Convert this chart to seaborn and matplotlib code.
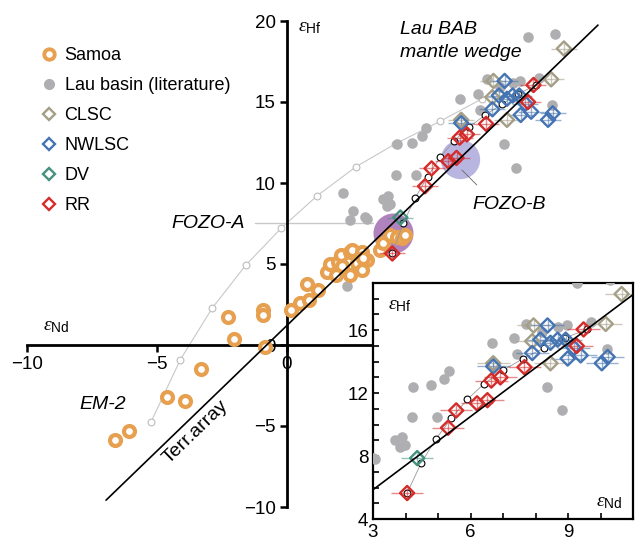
import numpy as np
import pandas as pd
import matplotlib
matplotlib.use("Agg")
import matplotlib.pyplot as plt
from matplotlib.lines import Line2D
from matplotlib.ticker import MultipleLocator
import seaborn as sns

sns.set_style("ticks")
plt.rcParams['font.family'] = ['Liberation Sans', 'DejaVu Sans']
plt.rcParams['mathtext.fontset'] = 'custom'
plt.rcParams['mathtext.rm'] = 'Liberation Sans'
plt.rcParams['mathtext.it'] = 'Liberation Serif:italic'
for key in ['text.color', 'axes.labelcolor', 'xtick.color', 'ytick.color', 'axes.edgecolor']:
    plt.rcParams[key] = 'black'

# ---- data (eNd, eHf) ----
samoa_nd = [-6.62, -6.07, -4.63, -3.92, -3.31, -2.28, -2.03, -0.92, -0.92, -0.85,
            0.16, 0.5, 0.85, 0.76, 1.2, 1.53, 1.65, 1.96, 2.08, 2.42, 2.5, 2.69,
            2.88, 2.88, 3.08, 2.42, 2.93, 3.58, 3.69, 3.96, 4.23, 4.42, 4.54, 2.1, 1.9]
samoa_hf = [-5.86, -5.3, -3.2, -3.46, -1.48, 1.73, 0.37, 2.16, 1.85, -0.12,
            2.16, 2.6, 2.8, 3.77, 3.4, 4.5, 5.0, 5.1, 5.55, 5.74, 5.86, 5.06,
            5.74, 4.63, 5.25, 4.3, 5.37, 5.86, 6.3, 6.8, 6.67, 6.6, 6.8, 4.9, 4.3]

lau_nd = [10.3, 9.27, 6.67, 7.35, 7.44, 8.2, 8.68, 8.96, 9.7, 10.2, 8.34, 8.8,
          5.35, 5.19, 4.79, 4.23, 4.2, 4.97, 3.68, 3.9, 3.83, 3.97, 3.06,
          2.15, 2.54, 2.42, 3.0, 2.3, 7.7]
lau_hf = [19.2, 19.0, 15.2, 15.5, 14.5, 15.9, 16.2, 16.3, 16.5, 14.8, 12.4, 10.9,
          13.4, 12.9, 12.5, 12.4, 10.5, 10.5, 9.0, 9.2, 8.6, 8.7, 7.8,
          9.4, 8.3, 7.7, 7.9, 3.64, 16.4]

clsc_nd = [10.65, 7.94, 7.9, 10.16, 8.46, 6.7]
clsc_hf = [18.3, 16.3, 15.3, 16.4, 13.9, 13.9]

nwlsc_nd = [8.37, 8.15, 8.68, 8.46, 8.93, 7.9, 8.99, 9.39, 9.17, 10.04, 10.22, 6.7]
nwlsc_hf = [16.3, 15.4, 15.4, 15.2, 15.4, 14.55, 14.2, 14.4, 14.9, 13.9, 14.3, 13.7]

dv_nd = [4.36]
dv_hf = [7.87]

rr_nd = [4.05, 5.31, 5.56, 6.2, 6.52, 6.64, 6.92, 7.66, 9.27, 9.48]
rr_hf = [5.65, 9.8, 10.9, 11.35, 11.55, 12.8, 13.0, 13.65, 15.0, 16.05]

# mixing curves
mixA_nd = [-5.23, -4.1, -2.88, -1.58, -0.23, 1.15, 2.65, 4.15, 5.88, 7.5]
mixA_hf = [-4.75, -0.9, 2.27, 4.94, 7.2, 9.2, 11.0, 12.4, 13.8, 15.2]
mixB_nd = [4.05, 4.48, 4.94, 5.41, 5.9, 6.42, 7.0, 7.62, 8.25, 8.9, 9.58]
mixB_hf = [5.65, 7.55, 9.1, 10.4, 11.6, 12.6, 13.45, 14.2, 14.85, 15.5, 16.06]

# end members
fozo_nd = [4.08, 6.65]
fozo_hf = [6.9, 11.5]

# terrestrial array eHf = 1.55 eNd + 1.21
terr_nd = np.array([-6.96, 11.96])
terr_hf = 1.55 * terr_nd + 1.21

c_samoa = '#E6A050'
c_lau = '#AFAFB2'
c_clsc = '#A39E85'
c_nwlsc = '#4574B2'
c_dv = '#45907F'
c_rr = '#D42B2B'

samoa = pd.DataFrame({'nd': samoa_nd, 'hf': samoa_hf})
lau = pd.DataFrame({'nd': lau_nd, 'hf': lau_hf})
groups = [('CLSC', clsc_nd, clsc_hf, c_clsc), ('NWLSC', nwlsc_nd, nwlsc_hf, c_nwlsc),
          ('DV', dv_nd, dv_hf, c_dv), ('RR', rr_nd, rr_hf, c_rr)]

fig = plt.figure(figsize=(6.35, 5.45), dpi=100)
ax = fig.add_axes([0, 0, 1, 1])
ax.set_xlim(-287 / 26, (635 - 287) / 26)
ax.set_ylim(-(545 - 345) / 16.2, 345 / 16.2)

# FOZO end members
ax.scatter(fozo_nd[:1], fozo_hf[:1], s=830, color='#A46DB3', alpha=0.85, lw=0, zorder=1)
ax.scatter(fozo_nd[1:], fozo_hf[1:], s=800, color='#ADA8DC', alpha=0.85, lw=0, zorder=1)

# mixing curve to EM-2
ax.plot(mixA_nd, mixA_hf, color='#C8C8C8', lw=0.8, zorder=2)
ax.scatter(mixA_nd, mixA_hf, s=24, facecolor='white', edgecolor='#BDBDBD', lw=0.8, zorder=2)

sns.scatterplot(data=lau, x='nd', y='hf', ax=ax, color=c_lau, s=58, lw=0, zorder=3)
sns.scatterplot(data=samoa, x='nd', y='hf', ax=ax, facecolor='white', edgecolor=c_samoa,
                s=62, lw=3.0, zorder=4)


def draw_lau_basin(a):
    a.plot(mixB_nd, mixB_hf, color='#999999', lw=0.6, zorder=5)
    a.scatter(mixB_nd, mixB_hf, s=24, facecolor='white', edgecolor='black', lw=0.8, zorder=5)
    for name, nd, hf, col in groups:
        a.errorbar(nd, hf, xerr=0.5, yerr=0.35, fmt='none', ecolor=col, alpha=0.55,
                   elinewidth=1, zorder=6)
        a.scatter(nd, hf, marker='D', s=52, facecolor='none', edgecolor=col, lw=1.7, zorder=7)
    a.plot(terr_nd, terr_hf, color='black', lw=1.2, zorder=8)


draw_lau_basin(ax)

# axes through the origin
for side in ['top', 'right']:
    ax.spines[side].set_visible(False)
ax.spines['left'].set_position(('data', 0))
ax.spines['bottom'].set_position(('data', 0))
ax.spines['left'].set_bounds(-10, 20)
ax.spines['bottom'].set_bounds(-10, 12)
for side in ['left', 'bottom']:
    ax.spines[side].set_linewidth(2)
ax.set_xticks([-10, -5, 0, 5, 10])
ax.set_yticks([-10, -5, 0, 5, 10, 15, 20])
ax.tick_params(direction='out', length=5, width=1.8, labelsize=13.5, pad=3)
ax.set_xlabel('')
ax.set_ylabel('')

ax.text(-9.38, 1.17, r'$\varepsilon_{\mathrm{Nd}}$', fontsize=14, va='center', ha='left')
ax.text(0.42, 19.6, r'$\varepsilon_{\mathrm{Hf}}$', fontsize=14, va='center', ha='left')

ax.text(-1.62, 7.47, 'FOZO-A', fontsize=14, style='italic', ha='right', va='center')
ax.plot([-1.23, 3.3], [7.53, 7.53], color='#C8C8C8', lw=1, zorder=1)
ax.text(8.54, 8.7, 'FOZO-B', fontsize=14, style='italic', ha='center', va='center')
ax.plot([6.73, 7.3], [10.8, 9.88], color='#666666', lw=0.6, zorder=2)
ax.text(4.35, 18.75, 'Lau BAB\nmantle wedge', fontsize=14, style='italic', ha='left',
        va='center', linespacing=1.45)
ax.text(-7.08, -3.7, 'EM-2', fontsize=14, style='italic', ha='center', va='center')
ax.text(-3.5, -5.37, 'Terr.array', fontsize=14, rotation=44, rotation_mode='anchor',
        ha='center', va='center')

handles = [
    Line2D([], [], ls='none', marker='o', ms=7.5, mfc='white', mec=c_samoa, mew=2.8, label='Samoa'),
    Line2D([], [], ls='none', marker='o', ms=7, mfc=c_lau, mec=c_lau, label='Lau basin (literature)'),
    Line2D([], [], ls='none', marker='D', ms=6.5, mfc='none', mec=c_clsc, mew=1.7, label='CLSC'),
    Line2D([], [], ls='none', marker='D', ms=6.5, mfc='none', mec=c_nwlsc, mew=1.7, label='NWLSC'),
    Line2D([], [], ls='none', marker='D', ms=6.5, mfc='none', mec=c_dv, mew=1.7, label='DV'),
    Line2D([], [], ls='none', marker='D', ms=6.5, mfc='none', mec=c_rr, mew=1.7, label='RR'),
]
fig.legend(handles=handles, loc='upper left', bbox_to_anchor=(0.052, 0.93), frameon=False,
           fontsize=13, borderpad=0, handlelength=0.8, handletextpad=0.45, labelspacing=0.72)

# inset zoom on the Lau basin lavas
ins = fig.add_axes([373 / 635, 26 / 545, 260 / 635, 236 / 545])
ins.set_facecolor('white')
sns.scatterplot(data=lau, x='nd', y='hf', ax=ins, color=c_lau, s=58, lw=0, zorder=3)
draw_lau_basin(ins)
ins.set_xlim(3, 11)
ins.set_ylim(4, 19)
ins.xaxis.set_major_locator(MultipleLocator(3))
ins.xaxis.set_minor_locator(MultipleLocator(1))
ins.yaxis.set_major_locator(MultipleLocator(4))
ins.yaxis.set_minor_locator(MultipleLocator(1))
ins.tick_params(which='both', direction='in', length=4, width=1.2, labelsize=13.5)
for sp in ins.spines.values():
    sp.set_linewidth(1.6)
    sp.set_color('black')
ins.set_xlabel('')
ins.set_ylabel('')
ins.text(3.46, 17.6, r'$\varepsilon_{\mathrm{Hf}}$', fontsize=14, va='center', ha='left')
ins.text(9.85, 5.08, r'$\varepsilon_{\mathrm{Nd}}$', fontsize=14, va='center', ha='left')

fig.savefig('out.png', dpi=100)
